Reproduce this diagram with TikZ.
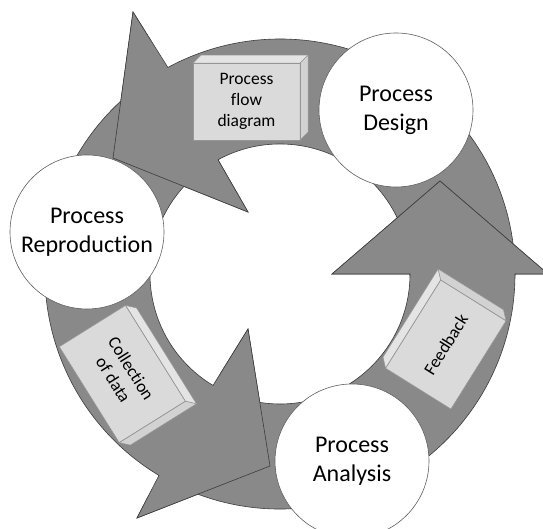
\documentclass[tikz,border=0pt]{standalone}
\usepackage{fontspec}
\setmainfont{Carlito}[Ligatures={NoCommon,NoContextual}]
\definecolor{ringgray}{RGB}{137,137,137}
\definecolor{edgegray}{RGB}{60,60,60}
\definecolor{circedge}{RGB}{95,95,95}
\definecolor{cubefrontc}{RGB}{218,218,218}
\definecolor{cubetopc}{RGB}{228,228,228}
\definecolor{cuberightc}{RGB}{210,210,210}
\definecolor{cubeedge}{RGB}{150,150,150}
\tikzset{
  arrowshape/.style={fill=ringgray, draw=edgegray, line width=0.6pt, line join=miter},
  toparrow/.style={insert path={(3:130) -- (3:235) arc[start angle=3,end angle=118.5,radius=235] -- (-147,262) -- (-167,116) -- (-32,62) -- (118.5:130) arc[start angle=118.5,end angle=3,radius=130] -- cycle}},
  leftarrow/.style={insert path={(121.5:130) -- (121.5:235) arc[start angle=121.5,end angle=239,radius=235] -- (-143,-244) -- (-10,-192) -- (-32,-55) -- (239:130) arc[start angle=239,end angle=121.5,radius=130] -- cycle}},
  rightarrow/.style={insert path={(242:130) -- (242:235) arc[start angle=242,end angle=360,radius=235] -- (268,0) -- (160,93) -- (52,0) -- (360:130) arc[start angle=360,end angle=242,radius=130] -- cycle}},
  procircle/.style={circle, draw=circedge, line width=0.6pt, fill=white, minimum size=154pt, inner sep=0pt, align=center, font=\fontsize{24}{29}\selectfont},
  cubefront/.style={fill=cubefrontc},
  cubetop/.style={fill=cubetopc, draw=cubeedge, line width=0.5pt, line join=round},
  cuberight/.style={fill=cuberightc, draw=cubeedge, line width=0.5pt, line join=round},
  cubeline/.style={draw=cubeedge, line width=0.5pt},
  boxtext/.style={align=center, inner sep=0pt, font=\fontsize{17.5}{21}\selectfont}
}
\newcommand\cubebox[7]{%
  \begin{scope}[shift={(#1,#2)},rotate=#3]
    \pgfmathsetmacro\cbx{#4/2}\pgfmathsetmacro\cby{#5/2}
    \fill[cubefront] (-\cbx,-\cby) rectangle (\cbx,\cby);
    \filldraw[cubetop] (-\cbx,\cby) -- (-\cbx+8,\cby+8) -- (\cbx+8,\cby+8) -- (\cbx,\cby) -- cycle;
    \filldraw[cuberight] (\cbx,\cby) -- (\cbx+8,\cby+8) -- (\cbx+8,-\cby+8) -- (\cbx,-\cby) -- cycle;
    \draw[cubeline] (-\cbx,-\cby) rectangle (\cbx,\cby);
    \node[boxtext, rotate=#3] (#6) at (0,0) {#7};
  \end{scope}}
\begin{document}
\begin{tikzpicture}[x=1pt, y=1pt]
  \useasboundingbox (0,0) rectangle (543,529);
  \fill[white] (0,0) rectangle (543,529);
  \begin{scope}[shift={(280,255)}]
    % full arrows
    \path[arrowshape, toparrow];
    \path[arrowshape, leftarrow];
    \path[arrowshape, rightarrow];
    % heads on top of the neighbouring tails
    \begin{scope}
      \clip (-148.6,267.8) -- (-169.6,114.5) -- (-27.8,57.8) -- cycle;
      \path[arrowshape, toparrow];
    \end{scope}
    \begin{scope}
      \clip (-147.1,-248.0) -- (-7.4,-193.4) -- (-30.5,-49.6) -- cycle;
      \path[arrowshape, leftarrow];
    \end{scope}
    \begin{scope}
      \clip (273.4,-1.55) -- (160,96.1) -- (46.6,-1.55) -- cycle;
      \path[arrowshape, rightarrow];
    \end{scope}
  \end{scope}
  % 3D boxes
  \cubebox{246.5}{427.3}{0}{107}{77}{flow}{Process\\flow\\diagram}
  \cubebox{445.8}{184.5}{58}{104}{77}{feedback}{Feedback}
  \cubebox{122.4}{155}{-58}{113}{78}{collect}{Collection\\of data}
  % circles
  \node[procircle] (design) at (396,419) {Process\\Design};
  \node[procircle] (repro) at (87,297) {Process\\Reproduction};
  \node[procircle] (analysis) at (352,68) {Process\\Analysis};
\end{tikzpicture}
\end{document}
